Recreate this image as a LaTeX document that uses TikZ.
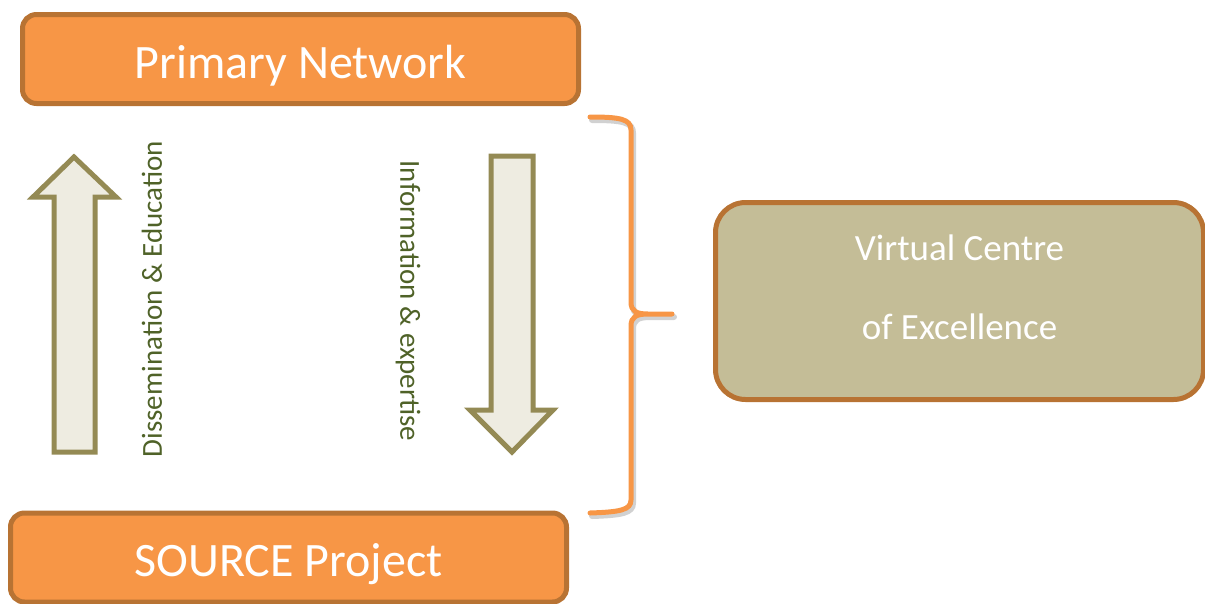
\documentclass[tikz,border=0pt]{standalone}
\usepackage{fontspec}
\setmainfont{Carlito}

\definecolor{boxorange}{HTML}{F79646}
\definecolor{boxedge}{HTML}{B87333}
\definecolor{arrowedge}{HTML}{948A54}
\definecolor{arrowfill}{HTML}{EEECE1}
\definecolor{flowgreen}{HTML}{4F6228}
\definecolor{centrefill}{HTML}{C4BD97}

\begin{document}
\begin{tikzpicture}[x=1pt,y=-1pt,
  bandbox/.style={draw=boxedge, fill=boxorange, line width=5pt, rounded corners=14pt,
    minimum width=556pt, minimum height=89pt, text=white,
    font=\fontsize{48}{58}\selectfont, text height=40pt, text depth=2pt},
  centrebox/.style={draw=boxedge, fill=centrefill, line width=5pt, rounded corners=30pt,
    minimum width=488pt, minimum height=197pt},
  centretext/.style={text=white, align=center, font=\fontsize{37}{79}\selectfont},
  blockarrow/.style={draw=arrowedge, fill=arrowfill, line width=5pt, line join=miter},
  flowlabel/.style={text=flowgreen, font=\fontsize{29}{35}\selectfont},
  bracket/.style={draw=boxorange, line width=5pt, line cap=round}]
\useasboundingbox (0,0) rectangle (1205,603);
%%% The two partners, top and bottom
\node[bandbox] (primary) at (300.5,59) {Primary Network};
\node[bandbox] (source) at (288.5,557.5) {SOURCE Project};
%%% The block arrows between them
\draw[blockarrow] (54,452) -- (54,197) -- (33,197) -- (74,157) -- (116,197)
  -- (95,197) -- (95,452) -- cycle;
\draw[blockarrow] (491,156) -- (533,156) -- (533,410) -- (553,410) -- (512,452)
  -- (470,410) -- (491,410) -- cycle;
\node[flowlabel, rotate=90] (dissem) at (152,299) {Dissemination \& Education};
\node[flowlabel, rotate=-90] (inform) at (408,301) {Information \& expertise};
%%% The curly bracket, with its soft shadow first
\begin{scope}[shift={(2,3)}]
\draw[bracket, draw=black, opacity=0.18, line width=6pt]
  (590,117) .. controls (620,117) and (631,119) .. (631,130) -- (631,302)
  .. controls (631,311) and (636,314) .. (648,314) -- (672,314)
  (648,314) .. controls (636,314) and (631,317) .. (631,326) -- (631,500)
  .. controls (631,510) and (620,512) .. (590,513);
\end{scope}
\draw[bracket]
  (590,117) .. controls (620,117) and (631,119) .. (631,130) -- (631,302)
  .. controls (631,311) and (636,314) .. (648,314) -- (672,314)
  (648,314) .. controls (636,314) and (631,317) .. (631,326) -- (631,500)
  .. controls (631,510) and (620,512) .. (590,513);
%%% The centre on the right
\node[centrebox] (centre) at (959.5,301) {};
\node[centretext] (centrename) at ([yshift=14pt]centre.center) {Virtual Centre\\of Excellence};
\end{tikzpicture}
\end{document}
